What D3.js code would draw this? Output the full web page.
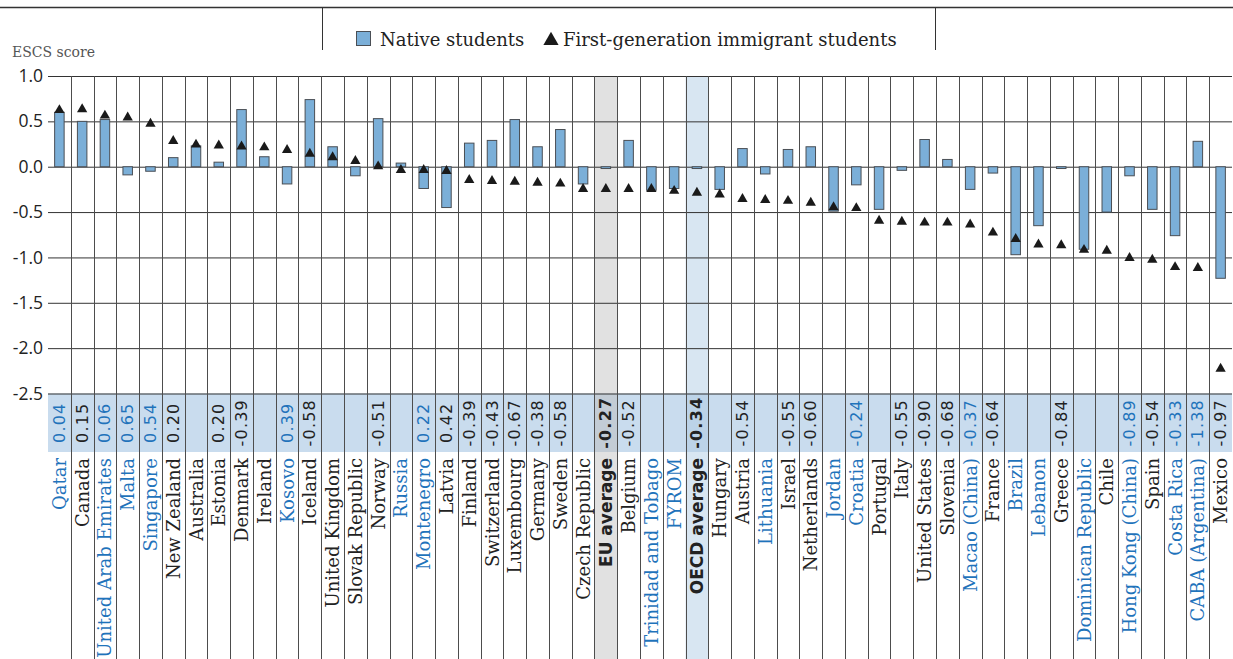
<!DOCTYPE html>
<html><head><meta charset="utf-8">
<script src="https://cdn.jsdelivr.net/npm/d3@7"></script>
<style>body{margin:0;background:#fff;} svg{display:block;}</style>
</head><body>
<svg id="chart" width="1233" height="659"></svg>
<script>
const countries = ["Qatar","Canada","United Arab Emirates","Malta","Singapore","New Zealand","Australia","Estonia","Denmark","Ireland","Kosovo","Iceland","United Kingdom","Slovak Republic","Norway","Russia","Montenegro","Latvia","Finland","Switzerland","Luxembourg","Germany","Sweden","Czech Republic","EU average","Belgium","Trinidad and Tobago","FYROM","OECD average","Hungary","Austria","Lithuania","Israel","Netherlands","Jordan","Croatia","Portugal","Italy","United States","Slovenia","Macao (China)","France","Brazil","Lebanon","Greece","Dominican Republic","Chile","Hong Kong (China)","Spain","Costa Rica","CABA (Argentina)","Mexico"];
const partners = ["Qatar","United Arab Emirates","Malta","Singapore","Kosovo","Russia","Montenegro","Trinidad and Tobago","FYROM","Lithuania","Jordan","Croatia","Macao (China)","Brazil","Lebanon","Dominican Republic","Hong Kong (China)","Costa Rica","CABA (Argentina)"];
const averages = ["EU average","OECD average"];
const nativeValues = [0.60,0.50,0.52,-0.09,-0.05,0.10,0.23,0.05,0.63,0.11,-0.19,0.74,0.22,-0.10,0.53,0.04,-0.24,-0.45,0.26,0.29,0.52,0.22,0.41,-0.19,-0.02,0.29,-0.26,-0.24,-0.02,-0.25,0.20,-0.08,0.19,0.22,-0.49,-0.20,-0.47,-0.04,0.30,0.08,-0.25,-0.07,-0.97,-0.65,-0.02,-0.91,-0.50,-0.10,-0.47,-0.76,0.28,-1.23];
const firstGenValues = [0.64,0.65,0.58,0.56,0.49,0.30,0.26,0.25,0.24,0.23,0.20,0.16,0.12,0.08,0.02,-0.02,-0.02,-0.03,-0.13,-0.14,-0.15,-0.16,-0.17,-0.23,-0.23,-0.23,-0.23,-0.25,-0.27,-0.29,-0.34,-0.35,-0.36,-0.38,-0.43,-0.44,-0.58,-0.59,-0.60,-0.60,-0.62,-0.71,-0.78,-0.84,-0.85,-0.90,-0.91,-0.99,-1.01,-1.09,-1.10,-2.21];
const differenceLabels = ["0.04","0.15","0.06","0.65","0.54","0.20","","0.20","-0.39","","0.39","-0.58","","","-0.51","","0.22","0.42","-0.39","-0.43","-0.67","-0.38","-0.58","","-0.27","-0.52","","","-0.34","","-0.54","","-0.55","-0.60","","-0.24","","-0.55","-0.90","-0.68","-0.37","-0.64","","","-0.84","","","-0.89","-0.54","-0.33","-1.38","-0.97"];
const yTicks = [1.0,0.5,0.0,-0.5,-1.0,-1.5,-2.0,-2.5];
const legendLabels = ["Native students","First-generation immigrant students"];
const yAxisTitle = "ESCS score";

const W = 1233, H = 659;
const plotLeft = 48, plotRight = 1232, plotTop = 76, plotBottom = 393.5;
const tableBottom = 452, labelTop = 458;
const BLUE_TEXT = "#1f73bb", DARK = "#222";
const BAR_FILL = "#7bafd8", BAR_STROKE = "#4a4f55";

const svg = d3.select("#chart");
const x = d3.scaleBand().domain(countries).range([plotLeft, plotRight]).paddingInner(0).paddingOuter(0);
const y = d3.scaleLinear().domain([-2.5, 1]).range([plotBottom, plotTop]);
const bw = x.bandwidth();
const data = countries.map((c,i)=>({c, n:nativeValues[i], f:firstGenValues[i], d:differenceLabels[i]}));
const colorOf = c => partners.includes(c) ? BLUE_TEXT : DARK;

// table band
svg.append("rect").attr("x",plotLeft).attr("y",plotBottom).attr("width",plotRight-plotLeft).attr("height",tableBottom-plotBottom).attr("fill","#c9dcee");

// average column bands
const bandColor = {"EU average":"#e1e1e1","OECD average":"#d8e6f2"};
const bandTableColor = {"EU average":"#c3ccd5","OECD average":"#bcd3e8"};
averages.forEach(a=>{
  svg.append("rect").attr("x",x(a)).attr("y",plotTop).attr("width",bw).attr("height",H-plotTop).attr("fill",bandColor[a]);
  svg.append("rect").attr("x",x(a)).attr("y",plotBottom).attr("width",bw).attr("height",tableBottom-plotBottom).attr("fill",bandTableColor[a]);
});

// horizontal gridlines via axis
const yAxis = d3.axisLeft(y).tickValues(yTicks).tickSize(-(plotRight-plotLeft)).tickFormat(d=>d.toFixed(1)).tickPadding(5);
const gy = svg.append("g").attr("transform",`translate(${plotLeft},0)`).call(yAxis);
gy.select(".domain").remove();
gy.selectAll(".tick line").attr("stroke","#333").attr("stroke-width",1);
gy.selectAll(".tick text").attr("font-family","'Open Sans', sans-serif").attr("font-size",17.5).attr("fill","#222");

// vertical separators
svg.append("g").selectAll("line").data(countries.slice(1)).join("line")
  .attr("x1",d=>Math.round(x(d))+0.5).attr("x2",d=>Math.round(x(d))+0.5)
  .attr("y1",plotTop).attr("y2",H).attr("stroke","#4d4d4d").attr("stroke-width",1);

// bars
const barW = 9.5;
svg.append("g").selectAll("rect").data(data).join("rect")
  .attr("x",d=>x(d.c)+bw/2-barW/2).attr("width",barW)
  .attr("y",d=>y(Math.max(0,d.n))).attr("height",d=>Math.max(1.5,Math.abs(y(d.n)-y(0))))
  .attr("fill",BAR_FILL).attr("stroke",BAR_STROKE).attr("stroke-width",1);

// triangles
const triSize = 46;
const triH = 3*Math.sqrt(triSize/(3*Math.sqrt(3)));
svg.append("g").selectAll("path").data(data).join("path")
  .attr("d",d3.symbol(d3.symbolTriangle,triSize))
  .attr("transform",d=>`translate(${x(d.c)+bw/2},${y(d.f)+triH/6})`)
  .attr("fill","#1a1a1a");

// table values
svg.append("g").selectAll("text").data(data.filter(d=>d.d!=="")).join("text")
  .attr("transform",d=>`translate(${x(d.c)+bw/2},${(plotBottom+tableBottom)/2}) rotate(-90)`)
  .attr("text-anchor","middle").attr("dominant-baseline","central")
  .attr("font-family","'DejaVu Sans', sans-serif").attr("font-size",16).attr("letter-spacing",1.2)
  .attr("font-weight",d=>averages.includes(d.c)?"bold":"normal")
  .attr("fill",d=>colorOf(d.c)).text(d=>d.d);

// country labels
svg.append("g").selectAll("text").data(data).join("text")
  .attr("transform",d=>`translate(${x(d.c)+bw/2},${labelTop}) rotate(-90)`)
  .attr("text-anchor","end").attr("dominant-baseline","central")
  .attr("font-family",d=>averages.includes(d.c)?"'DejaVu Sans', sans-serif":"'DejaVu Serif', serif")
  .attr("font-size",d=>averages.includes(d.c)?17:18)
  .attr("font-weight",d=>averages.includes(d.c)?"bold":"normal")
  .attr("fill",d=>colorOf(d.c)).text(d=>d.c);

// axis title
svg.append("text").attr("x",12).attr("y",57).attr("font-family","'DejaVu Serif', serif").attr("font-size",14).attr("fill","#555").text(yAxisTitle);

// top frame and legend box lines
svg.append("line").attr("x1",0).attr("x2",W).attr("y1",7.5).attr("y2",7.5).attr("stroke","#333").attr("stroke-width",1.5);
[322,935].forEach(xx=>svg.append("line").attr("x1",xx+0.5).attr("x2",xx+0.5).attr("y1",7).attr("y2",50).attr("stroke","#333").attr("stroke-width",1));

// legend
const lg = svg.append("g");
lg.append("rect").attr("x",356.5).attr("y",31.5).attr("width",14).attr("height",14).attr("fill",BAR_FILL).attr("stroke",BAR_STROKE);
lg.append("text").attr("x",380).attr("y",45.5).attr("font-family","'DejaVu Serif', serif").attr("font-size",18).attr("fill","#222").text(legendLabels[0]);
lg.append("path").attr("d",d3.symbol(d3.symbolTriangle,100)).attr("transform","translate(551,40.5)").attr("fill","#1a1a1a");
lg.append("text").attr("x",563).attr("y",45.5).attr("font-family","'DejaVu Serif', serif").attr("font-size",18).attr("fill","#222").text(legendLabels[1]);
</script>
</body></html>
